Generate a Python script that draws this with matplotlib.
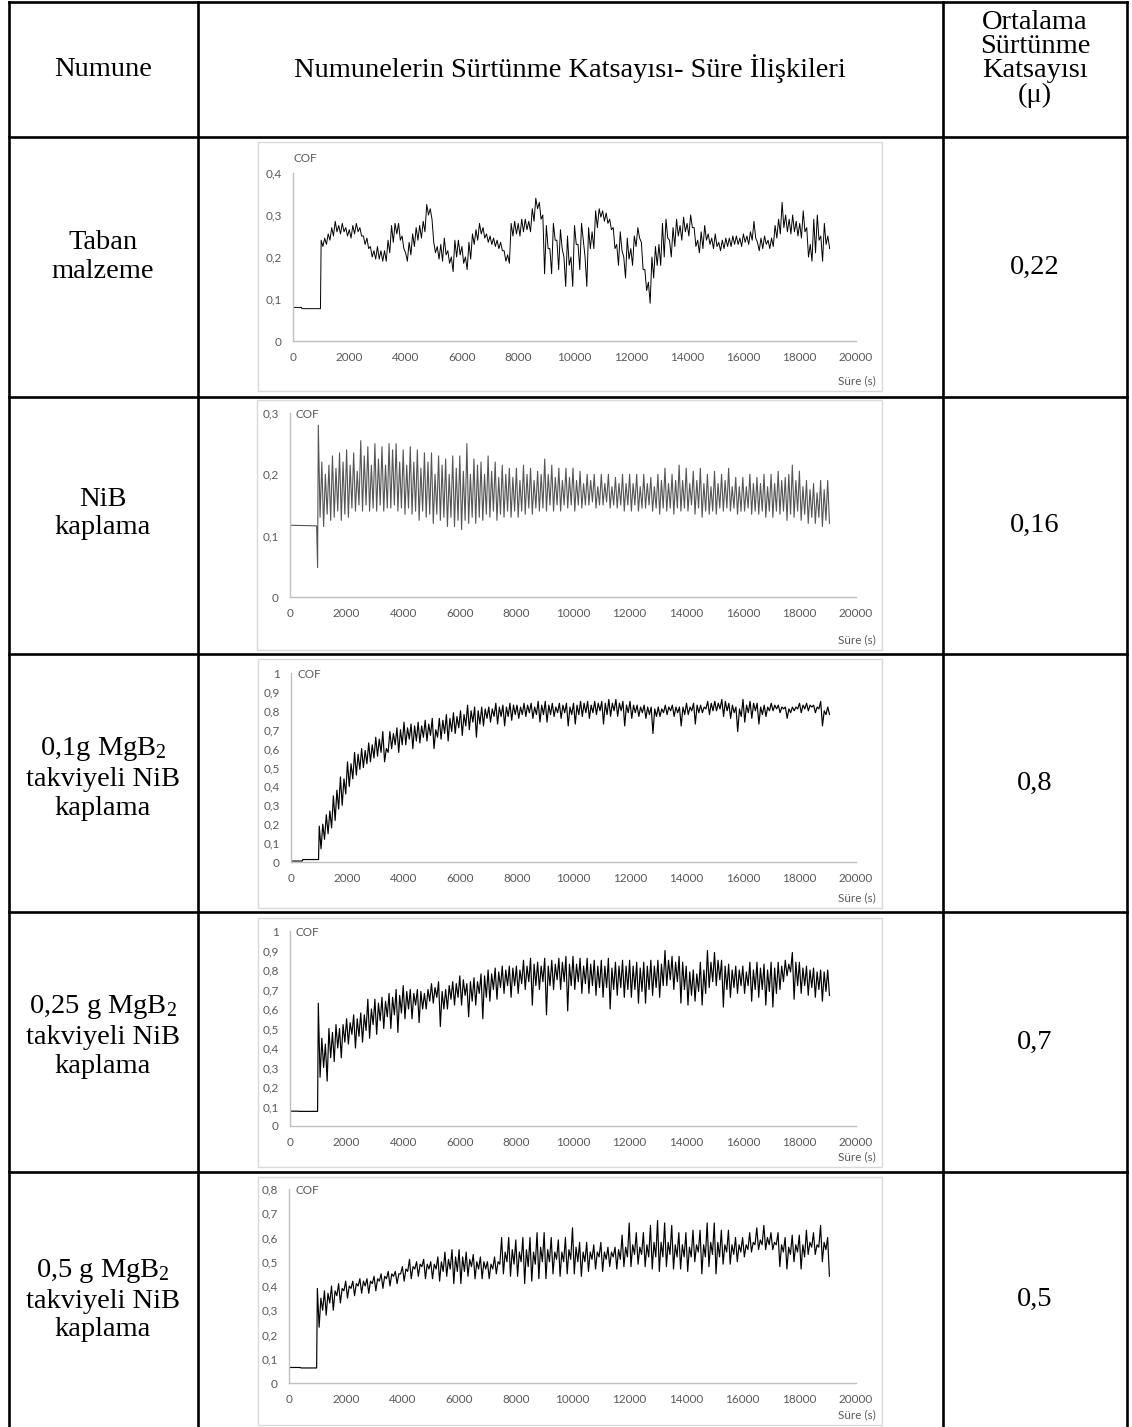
"""Numune COF - sure tablosu (table with five embedded friction charts)."""

import matplotlib

matplotlib.use("Agg")
import matplotlib.pyplot as plt
import numpy as np
from matplotlib.patches import Rectangle

plt.rcParams["mathtext.fontset"] = "custom"
plt.rcParams["mathtext.rm"] = "Liberation Serif"
plt.rcParams["mathtext.it"] = "Liberation Serif:italic"

W, H = 1132, 1427
SERIF = "Liberation Serif"
SANS = "Lato"
GREY_TXT = "#595959"
GREY_AX = "#bfbfbf"
GREY_BOX = "#d9d9d9"

# ---- table text ----
HEADERS = ["Numune", "Numunelerin Sürtünme Katsayısı- Süre İlişkileri",
           "Ortalama\nSürtünme\nKatsayısı\n(μ)"]
SAMPLES = [
    "Taban\nmalzeme",
    "NiB\nkaplama",
    "0,1g MgB$_2$\ntakviyeli NiB\nkaplama",
    "0,25 g MgB$_2$\ntakviyeli NiB\nkaplama",
    "0,5 g MgB$_2$\ntakviyeli NiB\nkaplama",
]
MEAN_COF = ["0,22", "0,16", "0,8", "0,7", "0,5"]
Y_MAX = [0.4, 0.3, 1.0, 1.0, 0.8]

# ---- traces: flat run-in part, then local peak / trough readings every 125 s ----
GRID = np.arange(1000, 19001, 125)

PRE_T = [
    [0, 300, 320, 975],
    [0, 900, 940, 975],
    [0, 400, 420, 975],
    [0, 300, 320, 975],
    [0, 400, 420, 975],
]
PRE_V = [
    [0.080, 0.080, 0.077, 0.077],
    [0.117, 0.116, 0.116, 0.048],
    [0.005, 0.005, 0.013, 0.013],
    [0.076, 0.076, 0.075, 0.075],
    [0.064, 0.064, 0.062, 0.062],
]

TABAN_HI = [
    0.24, 0.245, 0.255, 0.27, 0.285, 0.275, 0.28, 0.27,
    0.265, 0.275, 0.28, 0.27, 0.25, 0.245, 0.225, 0.215,
    0.225, 0.215, 0.215, 0.24, 0.275, 0.28, 0.28, 0.25,
    0.21, 0.235, 0.255, 0.27, 0.275, 0.285, 0.325, 0.315,
    0.235, 0.225, 0.23, 0.245, 0.215, 0.20, 0.24, 0.24,
    0.225, 0.20, 0.235, 0.255, 0.265, 0.28, 0.27, 0.255,
    0.25, 0.245, 0.24, 0.235, 0.215, 0.205, 0.28, 0.285,
    0.28, 0.29, 0.29, 0.285, 0.315, 0.34, 0.33, 0.30,
    0.275, 0.22, 0.28, 0.24, 0.265, 0.20, 0.25, 0.20,
    0.275, 0.23, 0.28, 0.20, 0.27, 0.26, 0.31, 0.315,
    0.31, 0.305, 0.29, 0.27, 0.23, 0.26, 0.20, 0.245,
    0.22, 0.25, 0.27, 0.235, 0.17, 0.14, 0.20, 0.225,
    0.23, 0.28, 0.29, 0.24, 0.27, 0.29, 0.275, 0.295,
    0.28, 0.30, 0.27, 0.24, 0.26, 0.275, 0.255, 0.245,
    0.255, 0.235, 0.24, 0.245, 0.245, 0.25, 0.25, 0.245,
    0.255, 0.25, 0.26, 0.285, 0.235, 0.245, 0.25, 0.24,
    0.245, 0.275, 0.29, 0.33, 0.30, 0.29, 0.30, 0.285,
    0.28, 0.31, 0.27, 0.23, 0.29, 0.30, 0.25, 0.28,
    0.25,
]
TABAN_LO = [
    0.225, 0.23, 0.24, 0.25, 0.26, 0.255, 0.26, 0.25,
    0.245, 0.255, 0.26, 0.25, 0.23, 0.22, 0.20, 0.195,
    0.195, 0.19, 0.19, 0.21, 0.235, 0.255, 0.24, 0.22,
    0.19, 0.205, 0.225, 0.24, 0.245, 0.26, 0.30, 0.29,
    0.21, 0.195, 0.19, 0.205, 0.185, 0.165, 0.20, 0.205,
    0.185, 0.17, 0.195, 0.23, 0.24, 0.255, 0.245, 0.235,
    0.23, 0.225, 0.22, 0.215, 0.19, 0.185, 0.25, 0.255,
    0.25, 0.26, 0.265, 0.26, 0.285, 0.315, 0.29, 0.16,
    0.22, 0.16, 0.24, 0.17, 0.22, 0.13, 0.18, 0.13,
    0.23, 0.17, 0.24, 0.13, 0.22, 0.22, 0.27, 0.295,
    0.285, 0.28, 0.265, 0.22, 0.18, 0.215, 0.15, 0.195,
    0.18, 0.225, 0.245, 0.17, 0.12, 0.09, 0.15, 0.18,
    0.18, 0.20, 0.245, 0.20, 0.225, 0.25, 0.24, 0.26,
    0.25, 0.27, 0.225, 0.21, 0.22, 0.24, 0.23, 0.22,
    0.225, 0.215, 0.22, 0.225, 0.225, 0.23, 0.23, 0.225,
    0.235, 0.23, 0.24, 0.245, 0.215, 0.22, 0.23, 0.22,
    0.225, 0.245, 0.255, 0.27, 0.26, 0.255, 0.26, 0.25,
    0.245, 0.26, 0.20, 0.19, 0.21, 0.24, 0.19, 0.23,
    0.22,
]

NIB_HI = [
    0.28, 0.22, 0.20, 0.215, 0.23, 0.21, 0.235, 0.22,
    0.24, 0.215, 0.235, 0.205, 0.255, 0.23, 0.245, 0.215,
    0.25, 0.225, 0.245, 0.215, 0.25, 0.24, 0.25, 0.22,
    0.24, 0.215, 0.245, 0.22, 0.24, 0.21, 0.235, 0.22,
    0.235, 0.20, 0.23, 0.215, 0.225, 0.20, 0.23, 0.21,
    0.23, 0.205, 0.25, 0.20, 0.225, 0.215, 0.22, 0.20,
    0.23, 0.205, 0.22, 0.195, 0.215, 0.20, 0.21, 0.195,
    0.21, 0.19, 0.215, 0.20, 0.21, 0.19, 0.205, 0.20,
    0.225, 0.20, 0.215, 0.195, 0.21, 0.19, 0.21, 0.195,
    0.21, 0.19, 0.205, 0.185, 0.20, 0.19, 0.20, 0.18,
    0.20, 0.185, 0.20, 0.18, 0.195, 0.185, 0.20, 0.185,
    0.20, 0.185, 0.20, 0.18, 0.20, 0.185, 0.195, 0.18,
    0.20, 0.19, 0.21, 0.185, 0.20, 0.19, 0.215, 0.19,
    0.21, 0.185, 0.205, 0.19, 0.21, 0.185, 0.20, 0.18,
    0.205, 0.185, 0.20, 0.19, 0.21, 0.18, 0.195, 0.18,
    0.195, 0.18, 0.20, 0.185, 0.195, 0.185, 0.20, 0.18,
    0.20, 0.185, 0.205, 0.19, 0.195, 0.20, 0.215, 0.19,
    0.205, 0.18, 0.19, 0.175, 0.185, 0.17, 0.19, 0.175,
    0.19,
]
NIB_LO = [
    0.13, 0.115, 0.135, 0.125, 0.13, 0.14, 0.125, 0.135,
    0.13, 0.145, 0.14, 0.15, 0.14, 0.15, 0.14, 0.145,
    0.14, 0.15, 0.14, 0.145, 0.145, 0.15, 0.14, 0.145,
    0.135, 0.145, 0.135, 0.14, 0.125, 0.14, 0.13, 0.135,
    0.12, 0.135, 0.125, 0.13, 0.115, 0.13, 0.115, 0.125,
    0.11, 0.125, 0.12, 0.13, 0.12, 0.13, 0.125, 0.135,
    0.13, 0.14, 0.125, 0.135, 0.13, 0.14, 0.13, 0.14,
    0.13, 0.14, 0.135, 0.145, 0.135, 0.145, 0.14, 0.145,
    0.14, 0.15, 0.14, 0.15, 0.14, 0.15, 0.145, 0.15,
    0.14, 0.15, 0.145, 0.15, 0.15, 0.155, 0.145, 0.15,
    0.15, 0.155, 0.145, 0.15, 0.145, 0.15, 0.14, 0.15,
    0.14, 0.15, 0.14, 0.145, 0.145, 0.15, 0.14, 0.145,
    0.135, 0.145, 0.14, 0.145, 0.135, 0.145, 0.14, 0.145,
    0.14, 0.15, 0.135, 0.145, 0.13, 0.14, 0.135, 0.14,
    0.135, 0.145, 0.14, 0.145, 0.14, 0.145, 0.135, 0.14,
    0.14, 0.145, 0.135, 0.14, 0.135, 0.14, 0.13, 0.14,
    0.13, 0.14, 0.135, 0.14, 0.125, 0.135, 0.13, 0.14,
    0.125, 0.135, 0.12, 0.13, 0.12, 0.13, 0.115, 0.125,
    0.12,
]

MGB01_HI = [
    0.19, 0.20, 0.25, 0.27, 0.35, 0.38, 0.45, 0.44,
    0.53, 0.52, 0.58, 0.57, 0.60, 0.59, 0.63, 0.62,
    0.66, 0.65, 0.69, 0.60, 0.69, 0.68, 0.71, 0.70,
    0.74, 0.71, 0.73, 0.72, 0.74, 0.72, 0.75, 0.73,
    0.76, 0.70, 0.76, 0.75, 0.78, 0.76, 0.79, 0.77,
    0.80, 0.78, 0.83, 0.80, 0.82, 0.80, 0.82, 0.81,
    0.82, 0.81, 0.84, 0.82, 0.83, 0.82, 0.84, 0.83,
    0.83, 0.82, 0.84, 0.83, 0.84, 0.82, 0.85, 0.83,
    0.85, 0.83, 0.84, 0.82, 0.84, 0.83, 0.84, 0.82,
    0.84, 0.83, 0.85, 0.84, 0.85, 0.83, 0.85, 0.84,
    0.85, 0.84, 0.86, 0.84, 0.86, 0.84, 0.85, 0.83,
    0.85, 0.83, 0.83, 0.82, 0.83, 0.82, 0.82, 0.81,
    0.82, 0.81, 0.83, 0.82, 0.83, 0.82, 0.82, 0.82,
    0.84, 0.82, 0.84, 0.83, 0.83, 0.82, 0.85, 0.84,
    0.85, 0.84, 0.86, 0.85, 0.84, 0.83, 0.82, 0.81,
    0.86, 0.83, 0.85, 0.84, 0.84, 0.82, 0.83, 0.82,
    0.84, 0.83, 0.83, 0.82, 0.82, 0.81, 0.82, 0.82,
    0.84, 0.83, 0.84, 0.83, 0.83, 0.82, 0.85, 0.80,
    0.82,
]
MGB01_LO = [
    0.07, 0.12, 0.15, 0.18, 0.22, 0.28, 0.30, 0.36,
    0.40, 0.44, 0.46, 0.49, 0.50, 0.52, 0.53, 0.55,
    0.56, 0.58, 0.53, 0.58, 0.60, 0.62, 0.58, 0.62,
    0.62, 0.65, 0.60, 0.64, 0.63, 0.66, 0.64, 0.67,
    0.60, 0.66, 0.65, 0.68, 0.64, 0.69, 0.68, 0.71,
    0.67, 0.72, 0.70, 0.74, 0.66, 0.73, 0.72, 0.76,
    0.74, 0.77, 0.73, 0.77, 0.72, 0.77, 0.75, 0.78,
    0.76, 0.78, 0.77, 0.79, 0.76, 0.78, 0.74, 0.78,
    0.74, 0.78, 0.77, 0.79, 0.76, 0.79, 0.72, 0.78,
    0.73, 0.78, 0.77, 0.79, 0.76, 0.79, 0.78, 0.80,
    0.73, 0.78, 0.77, 0.80, 0.77, 0.80, 0.72, 0.79,
    0.76, 0.79, 0.77, 0.79, 0.76, 0.78, 0.68, 0.77,
    0.77, 0.79, 0.78, 0.80, 0.77, 0.79, 0.72, 0.78,
    0.78, 0.80, 0.73, 0.79, 0.79, 0.81, 0.78, 0.80,
    0.80, 0.81, 0.77, 0.80, 0.76, 0.79, 0.69, 0.77,
    0.74, 0.79, 0.76, 0.80, 0.73, 0.78, 0.77, 0.80,
    0.80, 0.81, 0.79, 0.81, 0.76, 0.79, 0.80, 0.81,
    0.79, 0.81, 0.80, 0.82, 0.79, 0.81, 0.72, 0.78,
    0.78,
]

MGB025_HI = [
    0.63, 0.45, 0.42, 0.50, 0.48, 0.52, 0.50, 0.52,
    0.55, 0.53, 0.57, 0.55, 0.58, 0.57, 0.65, 0.60,
    0.65, 0.63, 0.66, 0.64, 0.68, 0.66, 0.70, 0.67,
    0.72, 0.69, 0.70, 0.68, 0.70, 0.69, 0.68, 0.70,
    0.73, 0.71, 0.74, 0.69, 0.70, 0.72, 0.74, 0.73,
    0.77, 0.75, 0.73, 0.74, 0.76, 0.74, 0.78, 0.77,
    0.80, 0.78, 0.81, 0.79, 0.82, 0.80, 0.82, 0.81,
    0.82, 0.80, 0.85, 0.82, 0.86, 0.83, 0.84, 0.82,
    0.86, 0.82, 0.85, 0.83, 0.86, 0.84, 0.87, 0.83,
    0.87, 0.83, 0.86, 0.82, 0.86, 0.83, 0.85, 0.82,
    0.85, 0.82, 0.86, 0.81, 0.84, 0.82, 0.85, 0.82,
    0.85, 0.82, 0.84, 0.81, 0.84, 0.82, 0.85, 0.82,
    0.85, 0.83, 0.90, 0.85, 0.87, 0.84, 0.87, 0.84,
    0.82, 0.79, 0.80, 0.78, 0.84, 0.80, 0.90, 0.84,
    0.89, 0.85, 0.85, 0.82, 0.83, 0.80, 0.82, 0.80,
    0.82, 0.79, 0.84, 0.80, 0.84, 0.81, 0.83, 0.80,
    0.84, 0.81, 0.84, 0.82, 0.85, 0.83, 0.89, 0.84,
    0.84, 0.81, 0.82, 0.80, 0.81, 0.79, 0.80, 0.79,
    0.80,
]
MGB025_LO = [
    0.25, 0.30, 0.23, 0.35, 0.33, 0.40, 0.35, 0.43,
    0.42, 0.47, 0.40, 0.46, 0.43, 0.49, 0.45, 0.52,
    0.47, 0.54, 0.50, 0.56, 0.50, 0.57, 0.48, 0.58,
    0.55, 0.60, 0.55, 0.62, 0.53, 0.60, 0.60, 0.64,
    0.63, 0.66, 0.51, 0.60, 0.60, 0.65, 0.62, 0.66,
    0.62, 0.67, 0.56, 0.64, 0.62, 0.68, 0.55, 0.66,
    0.64, 0.70, 0.65, 0.71, 0.68, 0.72, 0.66, 0.72,
    0.68, 0.73, 0.70, 0.74, 0.62, 0.72, 0.70, 0.74,
    0.57, 0.72, 0.70, 0.75, 0.70, 0.74, 0.59, 0.72,
    0.70, 0.74, 0.68, 0.73, 0.68, 0.72, 0.67, 0.71,
    0.66, 0.71, 0.60, 0.70, 0.67, 0.71, 0.66, 0.70,
    0.66, 0.70, 0.63, 0.69, 0.63, 0.70, 0.67, 0.71,
    0.66, 0.72, 0.72, 0.75, 0.70, 0.74, 0.63, 0.70,
    0.62, 0.67, 0.64, 0.69, 0.62, 0.68, 0.71, 0.74,
    0.72, 0.75, 0.61, 0.70, 0.66, 0.71, 0.68, 0.72,
    0.68, 0.72, 0.64, 0.70, 0.66, 0.70, 0.62, 0.69,
    0.61, 0.68, 0.70, 0.74, 0.77, 0.79, 0.65, 0.72,
    0.68, 0.72, 0.67, 0.71, 0.66, 0.70, 0.64, 0.69,
    0.67,
]

MGB05_HI = [
    0.39, 0.35, 0.38, 0.37, 0.40, 0.38, 0.41, 0.39,
    0.42, 0.40, 0.42, 0.41, 0.43, 0.42, 0.43, 0.42,
    0.44, 0.43, 0.45, 0.44, 0.46, 0.45, 0.46, 0.45,
    0.48, 0.47, 0.51, 0.48, 0.50, 0.49, 0.51, 0.49,
    0.50, 0.49, 0.52, 0.50, 0.54, 0.51, 0.55, 0.52,
    0.55, 0.52, 0.54, 0.51, 0.53, 0.50, 0.52, 0.50,
    0.50, 0.49, 0.52, 0.50, 0.60, 0.54, 0.60, 0.55,
    0.59, 0.54, 0.60, 0.55, 0.60, 0.54, 0.62, 0.56,
    0.62, 0.55, 0.60, 0.54, 0.59, 0.54, 0.60, 0.55,
    0.64, 0.56, 0.58, 0.54, 0.58, 0.54, 0.57, 0.54,
    0.58, 0.54, 0.56, 0.54, 0.56, 0.55, 0.61, 0.56,
    0.66, 0.57, 0.62, 0.56, 0.62, 0.57, 0.65, 0.58,
    0.67, 0.58, 0.66, 0.58, 0.65, 0.57, 0.62, 0.57,
    0.62, 0.56, 0.63, 0.57, 0.63, 0.57, 0.66, 0.58,
    0.66, 0.58, 0.63, 0.57, 0.63, 0.57, 0.60, 0.57,
    0.60, 0.57, 0.62, 0.58, 0.64, 0.59, 0.65, 0.60,
    0.62, 0.58, 0.62, 0.57, 0.60, 0.56, 0.61, 0.57,
    0.61, 0.57, 0.63, 0.58, 0.62, 0.57, 0.65, 0.58,
    0.60,
]
MGB05_LO = [
    0.23, 0.30, 0.28, 0.33, 0.30, 0.36, 0.33, 0.38,
    0.35, 0.39, 0.36, 0.40, 0.37, 0.40, 0.37, 0.41,
    0.38, 0.42, 0.39, 0.43, 0.40, 0.44, 0.41, 0.45,
    0.42, 0.46, 0.43, 0.47, 0.44, 0.48, 0.43, 0.47,
    0.43, 0.47, 0.42, 0.46, 0.44, 0.47, 0.41, 0.46,
    0.41, 0.46, 0.44, 0.48, 0.43, 0.47, 0.43, 0.47,
    0.43, 0.47, 0.45, 0.49, 0.45, 0.50, 0.44, 0.49,
    0.44, 0.50, 0.41, 0.48, 0.42, 0.49, 0.43, 0.50,
    0.43, 0.50, 0.45, 0.51, 0.44, 0.50, 0.45, 0.51,
    0.45, 0.50, 0.44, 0.50, 0.46, 0.51, 0.47, 0.52,
    0.46, 0.51, 0.48, 0.52, 0.47, 0.51, 0.48, 0.52,
    0.48, 0.53, 0.49, 0.53, 0.48, 0.52, 0.47, 0.52,
    0.46, 0.52, 0.48, 0.53, 0.47, 0.52, 0.47, 0.52,
    0.46, 0.52, 0.50, 0.54, 0.45, 0.52, 0.48, 0.53,
    0.45, 0.52, 0.49, 0.54, 0.49, 0.53, 0.50, 0.54,
    0.52, 0.55, 0.54, 0.57, 0.55, 0.57, 0.55, 0.57,
    0.55, 0.57, 0.48, 0.54, 0.47, 0.53, 0.50, 0.54,
    0.47, 0.52, 0.53, 0.56, 0.53, 0.56, 0.50, 0.55,
    0.44,
]

PEAKS = [TABAN_HI, NIB_HI, MGB01_HI, MGB025_HI, MGB05_HI]
TROUGHS = [TABAN_LO, NIB_LO, MGB01_LO, MGB025_LO, MGB05_LO]
LINE_COLORS = ["black", "#555555", "black", "black", "black"]
LINE_WIDTHS = [0.7, 0.8, 0.85, 0.85, 0.85]

# ---- page layout (pixels) ----
COL_X = [9, 198, 943, 1127]
ROW_Y = [1.5, 137, 397, 654, 912, 1172, 1427]
BOXES = [(258, 142, 882, 391), (257, 400, 882, 650), (258, 659, 882, 908),
         (258, 918, 882, 1167), (258, 1177, 882, 1425)]
# plot area: x of y-axis, y of top tick, y of zero line
PLOTS = [(293, 173, 341), (290, 413, 597), (291, 673, 862),
         (290, 931, 1126), (289, 1189, 1383)]
X_END = 856
LABEL_SHIFT = [-10, -12, -5, -6, 0]


def fmt(v):
    if abs(v) < 1e-9:
        return "0"
    if abs(v - round(v)) < 1e-9:
        return str(int(round(v)))
    return f"{v:.1f}".replace(".", ",")


def main():
    fig = plt.figure(figsize=(W / 100, H / 100), dpi=100)
    bg = fig.add_axes([0, 0, 1, 1])
    bg.set_xlim(0, W)
    bg.set_ylim(H, 0)
    bg.axis("off")

    lw_tab = 1.9
    for x in COL_X:
        bg.plot([x, x], [ROW_Y[0], H], color="black", lw=lw_tab, solid_capstyle="projecting")
    for y in ROW_Y[:-1]:
        bg.plot([COL_X[0], COL_X[-1]], [y, y], color="black", lw=lw_tab, solid_capstyle="projecting")

    fs = 20.5
    bg.text(103, 69, HEADERS[0], ha="center", va="center", fontsize=fs, family=SERIF)
    bg.text(570, 69, HEADERS[1], ha="center", va="center", fontsize=fs, family=SERIF)
    bg.text(1035, 59, HEADERS[2], ha="center", va="center", fontsize=fs, family=SERIF,
            linespacing=0.95)

    for i in range(5):
        yc = (ROW_Y[i + 1] + ROW_Y[i + 2]) / 2
        bg.text(103, yc + LABEL_SHIFT[i], SAMPLES[i], ha="center", va="center", fontsize=fs,
                family=SERIF, linespacing=1.2)
        bg.text(1035, yc, MEAN_COF[i], ha="center", va="center", fontsize=fs, family=SERIF)

        x0, y0, x1, y1 = BOXES[i]
        bg.add_patch(Rectangle((x0, y0), x1 - x0, y1 - y0, facecolor="white",
                               edgecolor=GREY_BOX, lw=1.0))

        px, ptop, pzero = PLOTS[i]
        ax = fig.add_axes([px / W, 1 - pzero / H, (X_END - px) / W, (pzero - ptop) / H])
        ax.patch.set_alpha(0)

        t = list(PRE_T[i])
        v = list(PRE_V[i])
        for g, hi, lo in zip(GRID, PEAKS[i], TROUGHS[i]):
            t += [g, g + 62.5]
            v += [hi, lo]
        ax.plot(t, v, color=LINE_COLORS[i], lw=LINE_WIDTHS[i])

        ax.set_xlim(0, 20000)
        ax.set_ylim(0, Y_MAX[i])
        xt = list(range(0, 20001, 2000))
        ax.set_xticks(xt)
        ax.set_xticklabels([str(x) for x in xt])
        n = int(round(Y_MAX[i] / 0.1))
        yt = [k / 10 for k in range(n + 1)]
        ax.set_yticks(yt)
        ax.set_yticklabels([fmt(y) for y in yt])
        ax.tick_params(length=0, labelsize=8.5, labelcolor=GREY_TXT, pad=8)
        for lab in ax.get_xticklabels() + ax.get_yticklabels():
            lab.set_family(SANS)
        for s in ("top", "right"):
            ax.spines[s].set_visible(False)
        for s in ("left", "bottom"):
            ax.spines[s].set_color(GREY_AX)
            ax.spines[s].set_linewidth(1.0)

        cof_y = ptop - 15 if i == 0 else ptop + 2
        bg.text(px + 6 if i else px, cof_y, "COF", ha="left", va="center", fontsize=8.5,
                color=GREY_TXT, family=SANS)
        bg.text(x1 - 6, y1 - 10, "Süre (s)", ha="right", va="center", fontsize=8.5,
                color=GREY_TXT, family=SANS)

    fig.savefig("out.png", dpi=100)
    plt.close(fig)


if __name__ == "__main__":
    main()
